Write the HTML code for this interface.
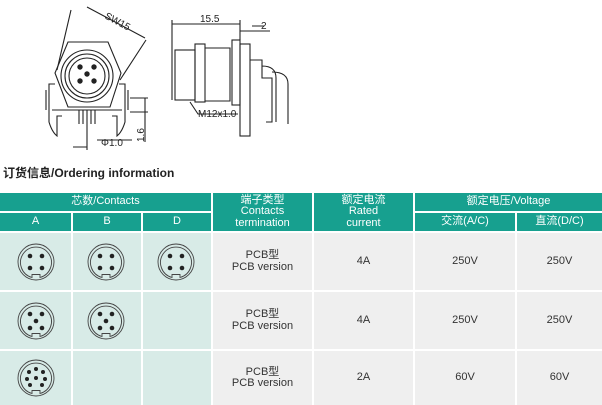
<!DOCTYPE html>
<html><head><meta charset="utf-8"><style>
body{margin:0;width:602px;height:405px;background:#fff;overflow:hidden;position:relative;font-family:"Liberation Sans","Noto Sans CJK SC",sans-serif}
.c{position:absolute;display:flex;align-items:center;justify-content:center;text-align:center;box-sizing:border-box;font-size:11px;line-height:11.5px}
.h{background:#17a08f;color:#fff}
.g{background:#d8ebe7;color:#333}
.w{background:#efefef;color:#333}
</style></head><body>
<svg width="602" height="160" style="position:absolute;left:0;top:0" fill="none" stroke="#222" stroke-width="1.1" font-family="Liberation Sans" font-size="10">
<polygon points="68,42 108,42 121,73 110,107 68,107 55,73"/>
<circle cx="87" cy="76" r="26"/><circle cx="87" cy="76" r="22"/><circle cx="87" cy="76" r="18"/>
<g fill="#222" stroke="none"><circle cx="80" cy="67" r="2.7"/><circle cx="94" cy="67" r="2.7"/><circle cx="80" cy="81" r="2.7"/><circle cx="94" cy="81" r="2.7"/><circle cx="87" cy="74" r="2.7"/></g>
<path d="M55,84 h-6 v38 q3,10 8,14 v-20 h5 M119,84 h6 v38 q-3,10 -8,14 v-20 h-5"/>
<path d="M52,110 h70 M46,90 v20 M128,90 v20"/>
<path d="M79,110 v14 M83,110 v14 M91,110 v14 M95,110 v14 M87,110 v40"/>
<path d="M71,10 L57,70 M146,40 L120,80 M87,7 L145,38"/>
<text x="104" y="18" transform="rotate(28 104 18)" fill="#222" stroke="none">SW15</text>
<path d="M73,147 h14 M97,140 h35 M130,98 h18 M130,112 h18 M145,98 v44"/>
<text x="101" y="146" fill="#222" stroke="none">Φ1.0</text>
<text x="144" y="142" transform="rotate(-90 144 142)" fill="#222" stroke="none">1.6</text>
<path d="M172,20 v80 M172,24 h68 M240,20 v20 M252,26 h12 M240,31 h30"/>
<text x="200" y="22" fill="#222" stroke="none">15.5</text><text x="261" y="29" fill="#222" stroke="none">2</text>
<rect x="175" y="50" width="20" height="50"/><rect x="195" y="44" width="10" height="58"/><path d="M205,48 h25 v53 h-25"/>
<rect x="232" y="40" width="8" height="65"/><rect x="240" y="44" width="10" height="92"/>
<path d="M250,60 h12 v18 h10 v44 h-6 M262,66 q14,0 14,12 v44 M272,72 q16,0 16,12 v40"/>
<path d="M190,102 L198,114 h40"/>
<text x="198" y="117" fill="#222" stroke="none">M12x1.0</text>
</svg>
<div style="position:absolute;left:3px;top:164px;font-size:12px;font-weight:bold;color:#222">订货信息/Ordering information</div>

<div class="c h" style="left:0;top:193px;width:211px;height:18px">芯数/Contacts</div>
<div class="c h" style="left:0;top:213px;width:71px;height:18px">A</div>
<div class="c h" style="left:73px;top:213px;width:68px;height:18px">B</div>
<div class="c h" style="left:143px;top:213px;width:68px;height:18px">D</div>
<div class="c h" style="left:213px;top:193px;width:99px;height:38px">端子类型<br>Contacts<br>termination</div>
<div class="c h" style="left:314px;top:193px;width:99px;height:38px">额定电流<br>Rated<br>current</div>
<div class="c h" style="left:415px;top:193px;width:187px;height:18px">额定电压/Voltage</div>
<div class="c h" style="left:415px;top:213px;width:100px;height:18px">交流(A/C)</div>
<div class="c h" style="left:517px;top:213px;width:85px;height:18px">直流(D/C)</div>

<div class="c g" style="left:0;top:233px;width:71px;height:57px"></div>
<div class="c g" style="left:73px;top:233px;width:68px;height:57px"></div>
<div class="c g" style="left:143px;top:233px;width:68px;height:57px"></div>
<div class="c w" style="left:213px;top:233px;width:99px;height:57px">PCB型<br>PCB version</div>
<div class="c w" style="left:314px;top:233px;width:99px;height:57px">4A</div>
<div class="c w" style="left:415px;top:233px;width:100px;height:57px">250V</div>
<div class="c w" style="left:517px;top:233px;width:85px;height:57px">250V</div>

<div class="c g" style="left:0;top:292px;width:71px;height:57px"></div>
<div class="c g" style="left:73px;top:292px;width:68px;height:57px"></div>
<div class="c g" style="left:143px;top:292px;width:68px;height:57px"></div>
<div class="c w" style="left:213px;top:292px;width:99px;height:57px">PCB型<br>PCB version</div>
<div class="c w" style="left:314px;top:292px;width:99px;height:57px">4A</div>
<div class="c w" style="left:415px;top:292px;width:100px;height:57px">250V</div>
<div class="c w" style="left:517px;top:292px;width:85px;height:57px">250V</div>

<div class="c g" style="left:0;top:351px;width:71px;height:54px"></div>
<div class="c g" style="left:73px;top:351px;width:68px;height:54px"></div>
<div class="c g" style="left:143px;top:351px;width:68px;height:54px"></div>
<div class="c w" style="left:213px;top:351px;width:99px;height:54px">PCB型<br>PCB version</div>
<div class="c w" style="left:314px;top:351px;width:99px;height:54px">2A</div>
<div class="c w" style="left:415px;top:351px;width:100px;height:54px">60V</div>
<div class="c w" style="left:517px;top:351px;width:85px;height:54px">60V</div>

<svg width="220" height="405" style="position:absolute;left:0;top:0" fill="none" stroke="#444" stroke-width="0.9" font-family="Liberation Sans" font-size="5">
<defs>
<g id="r"><circle r="18"/><path d="M-4,15.5 a15.5,15.5 0 1 1 8,0 v-3 h-8 z"/></g>
</defs>
<g transform="translate(36,262)"><use href="#r"/><g fill="#222" stroke="none"><circle cx="-6" cy="-6" r="2.3"/><circle cx="6" cy="-6" r="2.3"/><circle cx="-6" cy="6" r="2.3"/><circle cx="6" cy="6" r="2.3"/></g></g>
<g transform="translate(106,262)"><use href="#r"/><g fill="#222" stroke="none"><circle cx="-6" cy="-6" r="2.3"/><circle cx="6" cy="-6" r="2.3"/><circle cx="-6" cy="6" r="2.3"/><circle cx="6" cy="6" r="2.3"/></g></g>
<g transform="translate(176,262)"><use href="#r"/><g fill="#222" stroke="none"><circle cx="-6" cy="-6" r="2.3"/><circle cx="6" cy="-6" r="2.3"/><circle cx="-6" cy="6" r="2.3"/><circle cx="6" cy="6" r="2.3"/></g></g>
<g transform="translate(36,321)"><use href="#r"/><g fill="#222" stroke="none"><circle cx="-6" cy="-7" r="2.3"/><circle cx="6" cy="-7" r="2.3"/><circle cx="-6" cy="7" r="2.3"/><circle cx="6" cy="7" r="2.3"/><circle cx="0" cy="0" r="2.3"/></g></g>
<g transform="translate(106,321)"><use href="#r"/><g fill="#222" stroke="none"><circle cx="-6" cy="-7" r="2.3"/><circle cx="6" cy="-7" r="2.3"/><circle cx="-6" cy="7" r="2.3"/><circle cx="6" cy="7" r="2.3"/><circle cx="0" cy="0" r="2.3"/></g></g>
<g transform="translate(36,378)"><use href="#r"/><g fill="#222" stroke="none"><circle cx="-7" cy="-6" r="2"/><circle cx="7" cy="-6" r="2"/><circle cx="-9" cy="1" r="2"/><circle cx="9" cy="1" r="2"/><circle cx="-6" cy="7" r="2"/><circle cx="6" cy="7" r="2"/><circle cx="0" cy="-9" r="2"/><circle cx="0" cy="0" r="2"/></g></g>
</svg>
</body></html>
